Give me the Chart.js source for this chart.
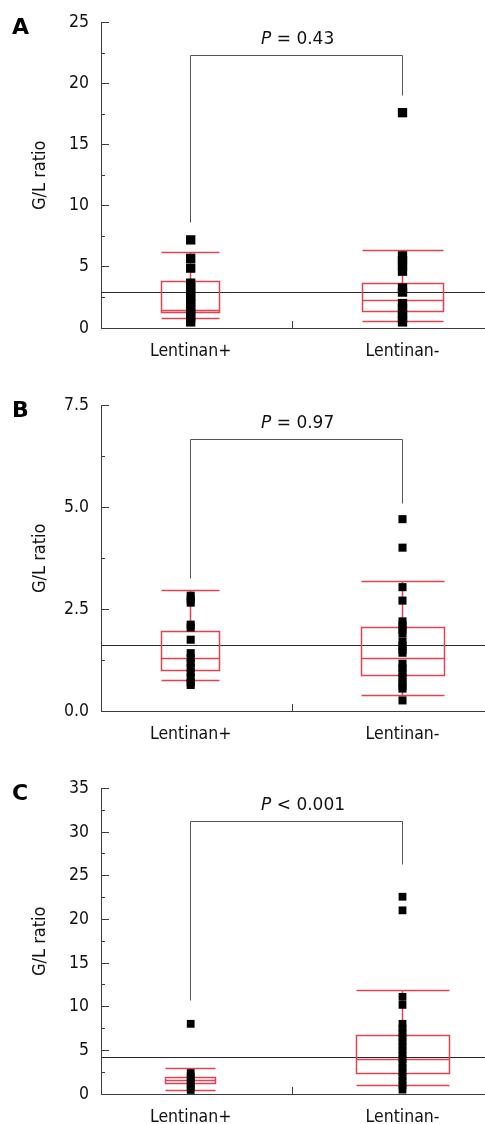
<!DOCTYPE html>
<html>
<head>
<meta charset="utf-8">
<script src="https://cdn.jsdelivr.net/npm/chart.js@4.4.1/dist/chart.umd.min.js"></script>
<style>
  html, body { margin: 0; padding: 0; background: #ffffff; width: 485px; height: 1124px; overflow: hidden; }
  .panel { position: absolute; left: 0; width: 485px; height: 370px; }
</style>
</head>
<body>
<div class="panel" style="top:0px"><canvas id="cA" width="485" height="370"></canvas></div>
<div class="panel" style="top:383px"><canvas id="cB" width="485" height="370"></canvas></div>
<div class="panel" style="top:766px"><canvas id="cC" width="485" height="370"></canvas></div>
<script>
// ---------------- data ----------------
const categories = ['Lentinan+', 'Lentinan-'];
const panelLetters = ['A', 'B', 'C'];
const pValueTexts = [' = 0.43', ' = 0.97', ' < 0.001'];
const yAxisTitle = 'G/L ratio';

// Panel A
const aTicks = [0, 5, 10, 15, 20, 25];
const aTickLabels = ['0', '5', '10', '15', '20', '25'];
const aPointsPlus  = [7.21, 5.7, 4.9, 3.67, 3.3, 2.9, 2.5, 2.1, 1.7, 1.3, 0.9, 0.5];
const aPointsMinus = [17.62, 5.9, 5.5, 5.1, 4.65, 3.27, 2.94, 2.0, 1.6, 1.2, 0.85, 0.5];
const aWhiskerLow  = [0.79, 0.52];
const aQ1          = [1.25, 1.39];
const aMedian      = [1.47, 2.23];
const aQ3          = [3.78, 3.62];
const aWhiskerHigh = [6.18, 6.35];
const aReference   = 2.94;
const aBracket     = [8.66, 22.26, 19.04]; // left end, bar, right end

// Panel B
const bTicks = [0, 2.5, 5, 7.5];
const bTickLabels = ['0.0', '2.5', '5.0', '7.5'];
const bPointsPlus  = [2.83, 2.74, 2.66, 2.12, 2.05, 1.75, 1.42, 1.3, 1.18, 1.06, 0.94, 0.82, 0.7, 0.64];
const bPointsMinus = [4.71, 4.01, 3.04, 2.71, 2.2, 2.1, 2.0, 1.91, 1.71, 1.6, 1.5, 1.43, 1.16, 1.05, 0.94, 0.83, 0.72, 0.62, 0.55, 0.26];
const bWhiskerLow  = [0.74, 0.37];
const bQ1          = [1.00, 0.88];
const bMedian      = [1.29, 1.29];
const bQ3          = [1.96, 2.05];
const bWhiskerHigh = [2.97, 3.18];
const bReference   = 1.60;
const bBracket     = [3.26, 6.66, 5.09];

// Panel C
const cTicks = [0, 5, 10, 15, 20, 25, 30, 35];
const cTickLabels = ['0', '5', '10', '15', '20', '25', '30', '35'];
const cPointsPlus  = [8.04, 2.4, 2.0, 1.6, 1.2, 0.85, 0.46];
const cPointsMinus = [22.6, 21.04, 11.13, 10.21, 8.04, 7.5, 7.0, 6.5, 6.0, 5.5, 5.0, 4.5, 4.0, 3.5, 3.0, 2.5, 2.0, 1.5, 1.0, 0.5];
const cWhiskerLow  = [0.42, 0.99];
const cQ1          = [1.26, 2.40];
const cMedian      = [1.52, 3.92];
const cQ3          = [1.94, 6.67];
const cWhiskerHigh = [2.97, 11.82];
const cReference   = 4.19;
const cBracket     = [10.71, 31.18, 26.31];

// ---------------- styling ----------------
const FONT = '"DejaVu Sans Condensed", "DejaVu Sans", sans-serif';
const TEXT = '#111111';
const AXIS = '#3c3c3c';
const BOX = 'rgb(228, 66, 80)';
const BRACKET = '#555555';
const REFLINE = '#2a2a2a';

const boxPlugin = {
  id: 'boxPlugin',
  beforeDatasetsDraw(chart) {
    const o = chart.options.plugins.boxPlugin;
    const { ctx, chartArea } = chart;
    const xs = chart.scales.x, ys = chart.scales.y;
    const cr = v => Math.round(v - 0.5) + 0.5;
    ctx.save();
    ctx.lineWidth = 1;
    // y tick marks (inside), major + minor
    ctx.strokeStyle = AXIS;
    ctx.beginPath();
    const n = Math.round(ys.max / o.minorStep);
    for (let k = 0; k <= n; k++) {
      const v = k * o.minorStep;
      const major = k % 2 === 0;
      const y = cr(ys.getPixelForValue(v));
      ctx.moveTo(chartArea.left, y);
      ctx.lineTo(chartArea.left + (major ? 8 : 4), y);
    }
    // group separator tick on x axis
    const xm = cr(xs.getPixelForValue(o.splitAt));
    ctx.moveTo(xm, chartArea.bottom);
    ctx.lineTo(xm, chartArea.bottom - 7);
    ctx.stroke();

    // reference line
    ctx.strokeStyle = REFLINE;
    ctx.lineWidth = 1.2;
    ctx.beginPath();
    const yr = cr(ys.getPixelForValue(o.reference));
    ctx.moveTo(chartArea.left, yr);
    ctx.lineTo(chartArea.right, yr);
    ctx.stroke();

    // boxes
    ctx.strokeStyle = BOX;
    ctx.lineWidth = 1.5;
    for (let i = 0; i < categories.length; i++) {
      const cx = xs.getPixelForValue(i + 1);
      const hw = o.boxWidths[i] / 2;
      const l = cr(cx - hw), r = cr(cx + hw), c = cr(cx);
      const yq1 = cr(ys.getPixelForValue(o.q1[i]));
      const yq3 = cr(ys.getPixelForValue(o.q3[i]));
      const ymed = cr(ys.getPixelForValue(o.median[i]));
      const ylo = cr(ys.getPixelForValue(o.low[i]));
      const yhi = cr(ys.getPixelForValue(o.high[i]));
      ctx.beginPath();
      ctx.rect(l, yq3, r - l, yq1 - yq3);
      ctx.moveTo(l, ymed); ctx.lineTo(r, ymed);
      ctx.moveTo(l, ylo); ctx.lineTo(r, ylo);
      ctx.moveTo(l, yhi); ctx.lineTo(r, yhi);
      ctx.moveTo(c, yq3); ctx.lineTo(c, yhi);
      ctx.moveTo(c, yq1); ctx.lineTo(c, ylo);
      ctx.stroke();
    }

    // significance bracket
    ctx.strokeStyle = BRACKET;
    ctx.lineWidth = 1;
    const x1 = cr(xs.getPixelForValue(1)), x2 = cr(xs.getPixelForValue(2));
    const yb = cr(ys.getPixelForValue(o.bracket[1]));
    ctx.beginPath();
    ctx.moveTo(x1, cr(ys.getPixelForValue(o.bracket[0])));
    ctx.lineTo(x1, yb);
    ctx.lineTo(x2, yb);
    ctx.lineTo(x2, cr(ys.getPixelForValue(o.bracket[2])));
    ctx.stroke();
    ctx.restore();
  },
  afterDraw(chart) {
    const o = chart.options.plugins.boxPlugin;
    const { ctx, chartArea } = chart;
    const xs = chart.scales.x, ys = chart.scales.y;
    ctx.save();
    // panel letter
    ctx.fillStyle = '#000';
    ctx.textBaseline = 'alphabetic';
    ctx.textAlign = 'left';
    ctx.font = 'bold 22px "DejaVu Sans", sans-serif';
    ctx.fillText(o.letter, 12, chartArea.top + 11.5);
    // p-value text
    const yb = ys.getPixelForValue(o.bracket[1]);
    const xmid = (xs.getPixelForValue(1) + xs.getPixelForValue(2)) / 2;
    let x = xmid - 35.5;
    ctx.fillStyle = TEXT;
    ctx.font = 'italic 17px "DejaVu Sans", sans-serif';
    ctx.fillText('P', x, yb - 12);
    x += ctx.measureText('P').width;
    ctx.font = '17px "DejaVu Sans", sans-serif';
    ctx.fillText(o.pText, x, yb - 12);
    ctx.restore();
  }
};

function makeChart(id, cfg) {
  const pointDs = (vals, gx) => ({
    type: 'scatter',
    data: vals.map(v => ({ x: gx, y: v })),
    pointStyle: 'rect',
    pointRadius: cfg.pointRadius,
    pointHoverRadius: cfg.pointRadius,
    backgroundColor: '#000',
    borderWidth: 0,
    clip: false
  });
  return new Chart(document.getElementById(id), {
    type: 'scatter',
    data: { datasets: [pointDs(cfg.plus, 1), pointDs(cfg.minus, 2)] },
    options: {
      responsive: false,
      animation: false,
      events: [],
      layout: { autoPadding: false, padding: { top: 22, right: 0, bottom: 0, left: 0 } },
      plugins: {
        legend: { display: false },
        tooltip: { enabled: false },
        boxPlugin: {
          letter: cfg.letter, pText: cfg.pText,
          minorStep: cfg.minorStep, splitAt: 1.48,
          reference: cfg.reference, bracket: cfg.bracket,
          boxWidths: cfg.boxWidths,
          q1: cfg.q1, q3: cfg.q3, median: cfg.median, low: cfg.low, high: cfg.high
        }
      },
      scales: {
        x: {
          type: 'linear',
          min: 0.5765, max: 2.3895,
          afterBuildTicks: s => { s.ticks = categories.map((c, i) => ({ value: i + 1 })); },
          ticks: {
            callback: v => categories[Math.round(v) - 1] || '',
            font: { family: FONT, size: 17.5 }, color: TEXT,
            padding: 13, maxRotation: 0, autoSkip: false
          },
          grid: { display: false, drawTicks: false },
          border: { display: true, color: AXIS, width: 1 },
          afterFit: s => { s.height = 42; s.paddingLeft = 0; s.paddingRight = 0; }
        },
        y: {
          min: 0, max: cfg.ticks[cfg.ticks.length - 1],
          afterBuildTicks: s => { s.ticks = cfg.ticks.map(v => ({ value: v })); },
          ticks: {
            callback: (v, i) => cfg.tickLabels[i],
            font: { family: FONT, size: 17.5 }, color: TEXT,
            padding: 12, autoSkip: false
          },
          grid: { display: false, drawTicks: false },
          border: { display: true, color: AXIS, width: 1 },
          title: {
            display: true, text: yAxisTitle, color: TEXT,
            font: { family: FONT, size: 18 },
            padding: { top: 30, bottom: 0 }
          },
          afterFit: s => { s.width = 101; }
        }
      }
    },
    plugins: [boxPlugin]
  });
}

makeChart('cA', {
  letter: panelLetters[0], pText: pValueTexts[0], pointRadius: 6.6,
  ticks: aTicks, tickLabels: aTickLabels, minorStep: 2.5,
  plus: aPointsPlus, minus: aPointsMinus,
  low: aWhiskerLow, q1: aQ1, median: aMedian, q3: aQ3, high: aWhiskerHigh,
  reference: aReference, bracket: aBracket, boxWidths: [58, 81]
});
makeChart('cB', {
  letter: panelLetters[1], pText: pValueTexts[1], pointRadius: 5.7,
  ticks: bTicks, tickLabels: bTickLabels, minorStep: 1.25,
  plus: bPointsPlus, minus: bPointsMinus,
  low: bWhiskerLow, q1: bQ1, median: bMedian, q3: bQ3, high: bWhiskerHigh,
  reference: bReference, bracket: bBracket, boxWidths: [58, 83]
});
makeChart('cC', {
  letter: panelLetters[2], pText: pValueTexts[2], pointRadius: 5.5,
  ticks: cTicks, tickLabels: cTickLabels, minorStep: 2.5,
  plus: cPointsPlus, minus: cPointsMinus,
  low: cWhiskerLow, q1: cQ1, median: cMedian, q3: cQ3, high: cWhiskerHigh,
  reference: cReference, bracket: cBracket, boxWidths: [50, 93]
});
</script>
</body>
</html>
